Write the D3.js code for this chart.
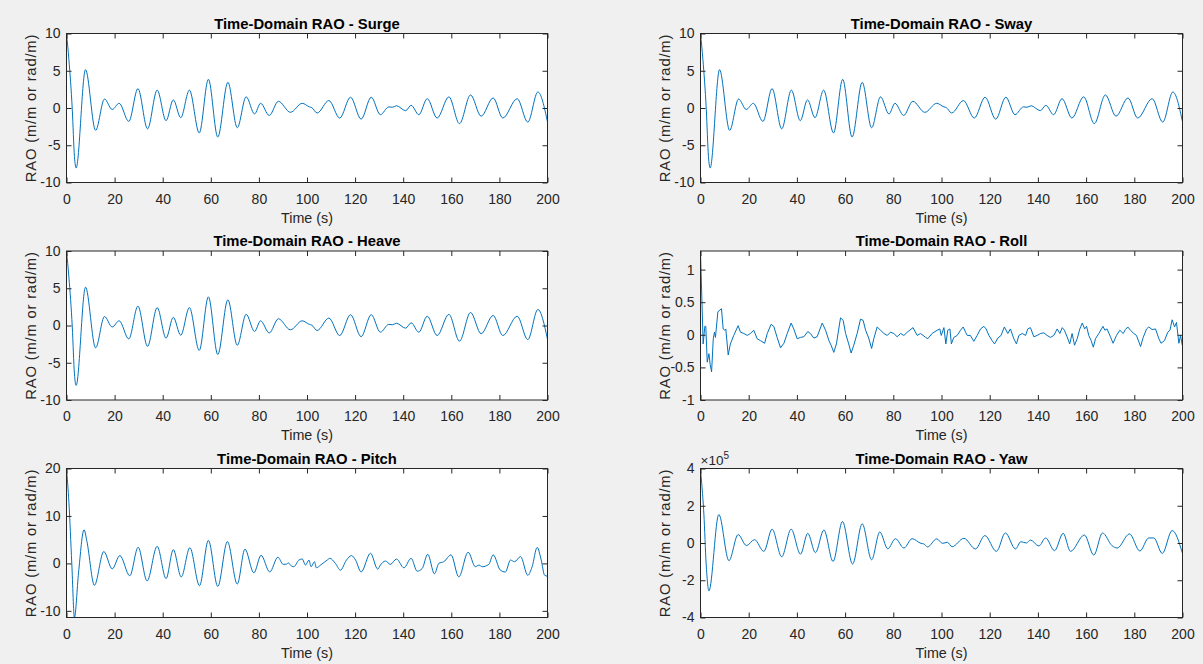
<!DOCTYPE html>
<html>
<head>
<meta charset="utf-8">
<script src="https://cdn.jsdelivr.net/npm/d3@7"></script>
<style>
  html, body { margin: 0; padding: 0; background: #f0f0f0; }
  svg { display: block; font-family: "Liberation Sans", Arial, Helvetica, sans-serif; }
</style>
</head>
<body>
<svg id="chart" width="1203" height="664"></svg>
<script>
// ---------------- DATA ----------------
const titles = ["Time-Domain RAO - Surge", "Time-Domain RAO - Sway", "Time-Domain RAO - Heave",
                "Time-Domain RAO - Roll", "Time-Domain RAO - Pitch", "Time-Domain RAO - Yaw"];
const xLabel = "Time (s)";
const yLabel = "RAO (m/m or rad/m)";
const xTicks = [0, 20, 40, 60, 80, 100, 120, 140, 160, 180, 200];

// Surge: [time, value]
const surgeData = [[0,10],[1,6.5],[2.4,-0.2],[3.3,-6.5],[4.0,-8.05],[7.9,5.15],[12.1,-3.0],[15.8,1.2],[19,-0.2],
  [21.9,0.63],[25.9,-1.8],[29.7,2.6],[33.7,-2.8],[37.7,2.4],[41.4,-1.7],[44.4,1.1],[47.5,-1.3],[51.1,2.4],
  [55.2,-3.35],[59.0,3.85],[62.9,-3.9],[67.1,3.45],[71.0,-2.65],[74.7,1.5],[78.2,-0.8],[80.7,0.63],[84.3,-1.0],
  [88.1,0.9],[93.1,-0.58],[98,0.63],[101,0.15],[102,0.05],[104.2,-0.67],[109.1,1.0],[113.6,-1.35],[118.1,1.45],
  [122.5,-1.5],[126.7,1.45],[130.5,-0.9],[134,0.15],[135.5,0.1],[137.2,0.3],[141,-0.36],[143.3,0.36],
  [146.5,-0.9],[150,1.25],[154.1,-1.35],[159,1.5],[163.4,-2.1],[168,1.75],[172.4,-1.1],[177.4,1.35],
  [181.4,-1.35],[187.4,1.25],[191.8,-1.9],[196,2.15],[200,-1.85]];
// Sway and Heave read the same as Surge in the picture
const swayData = surgeData.map(d => [d[0], d[1]]);
const heaveData = surgeData.map(d => [d[0], d[1]]);

const rollData = [[0,1.28],[1.1,-0.14],[1.8,0.13],[2.2,0.13],[2.8,-0.42],[3.5,-0.29],[4.0,-0.45],[4.6,-0.57],
  [5.3,-0.06],[5.8,0.04],[6.2,-0.04],[7.2,0.35],[8.0,0.38],[8.7,0.40],[9.4,0.09],[10.1,0.07],[10.5,0.09],
  [11.5,-0.31],[12.4,-0.14],[13.8,-0.01],[15.6,0.14],[16.6,0.04],[18.0,0.02],[19.4,-0.01],[20.7,0.02],
  [22.1,0.07],[23.5,-0.06],[24.9,-0.09],[26.6,-0.13],[27.7,0.02],[29.3,0.16],[30.4,0.13],[31.8,-0.04],
  [33.2,-0.2],[34.6,-0.13],[36.0,0.02],[37.6,0.18],[38.7,0.09],[40.1,-0.06],[41.5,-0.04],[42.9,-0.03],
  [44.5,0.05],[45.6,0.02],[47.0,-0.05],[48.4,-0.03],[50.5,0.18],[51.9,0.07],[53.3,-0.09],[54.2,-0.16],
  [55.3,-0.27],[56.4,-0.14],[58.1,0.26],[59.2,0.22],[60.2,0.02],[61.5,-0.14],[62.5,-0.28],[63.6,-0.16],
  [65.0,0.02],[66.4,0.24],[67.5,0.22],[68.5,0.07],[69.8,-0.05],[71.0,-0.21],[71.9,-0.06],[73.3,0.12],
  [74.7,0.07],[76.1,0.02],[77.5,-0.01],[78.8,0.04],[80.2,0.02],[81.6,-0.03],[83.0,0.02],[84.4,-0.01],
  [85.8,0.04],[88.2,0.11],[89.9,-0.01],[91.3,0.02],[93.4,-0.04],[94.3,-0.06],[96.1,0.02],[98.2,0.07],
  [99.3,0.09],[99.9,-0.01],[101.0,0.11],[101.8,-0.14],[102.6,0.07],[103.5,0.09],[104.1,-0.14],[105.1,-0.04],
  [106.5,-0.01],[107.9,0.07],[109.0,0.12],[110.0,0.04],[110.7,-0.01],[112.0,-0.01],[113.4,-0.1],[114.8,-0.01],
  [116.2,0.09],[117.6,0.13],[118.5,0.09],[119.7,-0.01],[121.0,-0.09],[122.0,-0.14],[123.4,-0.05],[124.7,-0.01],
  [126.1,0.12],[127.5,0.02],[128.6,0.09],[130.0,-0.06],[131.1,-0.14],[132.1,-0.01],[133.5,0.02],[134.9,-0.01],
  [135.8,0.09],[136.9,0.11],[138.3,-0.03],[139.7,-0.01],[141.1,0.02],[142.5,0.03],[143.8,-0.01],[145.2,-0.04],
  [146.6,-0.01],[148.0,0.09],[149.1,0.02],[150.1,0.11],[151.0,0.07],[152.1,-0.03],[153.2,-0.14],[154.2,0.02],
  [155.2,-0.16],[156.3,-0.06],[157.4,0.09],[158.4,0.18],[159.4,0.09],[160.2,0.13],[161.1,-0.01],[162.1,-0.09],
  [163.0,-0.19],[163.9,-0.06],[165.3,0.02],[167.0,0.13],[167.8,0.07],[168.7,0.09],[170.1,-0.03],[171.2,-0.13],
  [172.6,-0.01],[174.0,0.07],[175.4,0.02],[176.3,0.08],[177.3,0.12],[178.4,0.07],[179.8,0.02],[180.9,-0.01],
  [181.9,-0.11],[182.6,-0.18],[183.7,-0.04],[185.1,0.09],[186.0,0.12],[187.4,0.08],[188.8,0.09],[190.2,-0.06],
  [191.1,-0.13],[192.5,-0.09],[193.9,0.04],[194.8,0.07],[195.7,0.23],[196.7,0.12],[197.5,0.19],[198.5,-0.13],
  [199.2,-0.01],[199.9,-0.16]];

const pitchData = [[0,20],[1,12.9],[2.2,0],[3.3,-11.4],[5,-2],[7.3,7.1],[8.5,4.6],[11.6,-4.6],[15.5,2.5],
  [19,-1.15],[22.2,1.65],[26.3,-2.6],[29.8,3.4],[33.5,-3.7],[37.7,3.6],[41.4,-3.2],[44.4,2.9],[47.7,-2.85],
  [51.3,3.3],[55.3,-4.7],[59,4.85],[62.9,-4.85],[66.9,4.6],[71,-4.35],[74.2,3.0],[77.9,-2.0],[80.9,1.7],
  [84.5,-1.8],[87.9,1.3],[90.1,-0.2],[91.5,-0.15],[92.3,0.1],[93.1,-0.36],[94.5,-0.7],[96.6,0.7],[98,0.93],
  [99.4,-0.36],[100.8,0.7],[101.7,-0.7],[103.1,0.36],[103.9,-0.93],[105.6,-0.36],[108.4,0.7],[109.5,1.07],
  [111.8,0],[113.9,-1.43],[116.4,0.7],[118.5,1.64],[120.2,0.7],[122.5,-1.8],[126.4,2.14],[129.4,-1.2],
  [130.5,-0.36],[132.6,0.5],[134.7,-0.2],[137.2,0.93],[140.3,-0.93],[143.3,1.07],[145.8,-1.64],[147.9,-1.07],
  [150.2,1.93],[153,-2.2],[154.8,0],[156.9,0.36],[159.9,1.8],[163.1,-2.85],[167,2.35],[170,-0.7],[171.5,-0.36],
  [172.9,-0.7],[175.6,-0.2],[177.4,1.8],[180.4,-1.43],[182.5,-1.8],[184.6,0.7],[186.3,0.36],[188.8,1.43],
  [191.8,-2.5],[193.6,-0.7],[195.7,3.36],[197.4,0.7],[198.8,-2.5],[200,-2.7]];

const yawData = [[0,3.95e5],[0.5,3.2e5],[1.4,1.56e5],[2.35,-1.13e5],[3.5,-2.57e5],[7.6,1.53e5],[11.8,-0.95e5],
  [15.6,0.45e5],[19.1,-0.14e5],[22.4,0.18e5],[26.3,-0.45e5],[29.7,0.74e5],[33.7,-0.74e5],[37.6,0.74e5],
  [41.5,-0.6e5],[44.5,0.52e5],[47.7,-0.52e5],[51.2,0.7e5],[55,-0.99e5],[58.9,1.15e5],[63.1,-1.13e5],
  [67.1,1.03e5],[71,-0.9e5],[74.4,0.59e5],[77.7,-0.31e5],[80.9,0.23e5],[84.4,-0.27e5],[87.8,0.23e5],
  [91.5,-0.02e5],[92.7,-0.05e5],[94.2,-0.21e5],[98,0.22e5],[100.5,-0.02e5],[102.4,0.04e5],[104.4,-0.2e5],
  [109.3,0.25e5],[114.1,-0.32e5],[118,0.4e5],[122.8,-0.45e5],[126.5,0.54e5],[130.7,-0.32e5],[132.9,0.07e5],
  [135.2,0],[136.9,0.16e5],[140.4,-0.16e5],[143.2,0.27e5],[146.9,-0.41e5],[150.5,0.52e5],[153.5,-0.45e5],
  [159.3,0.43e5],[163.2,-0.65e5],[166.8,0.54e5],[170.8,-0.15e5],[172.9,-0.27e5],[178,0.49e5],[182.3,-0.43e5],
  [186,0.27e5],[188.1,0.27e5],[191.6,-0.56e5],[195.7,0.67e5],[200,-0.56e5]];

const yDomains = [[-10,10],[-10,10],[-10,10],[-1,1.285],[-11.4,20],[-4e5,4e5]];
const yTicks = [[-10,-5,0,5,10],[-10,-5,0,5,10],[-10,-5,0,5,10],[-1,-0.5,0,0.5,1],[-10,0,10,20],[-4e5,-2e5,0,2e5,4e5]];
const seriesData = [surgeData, swayData, heaveData, rollData, pitchData, yawData];
const smooth = [true, true, true, false, true, true];
const yScaleExp = [0, 0, 0, 0, 0, 5];

// ---------------- LAYOUT ----------------
const colX = [[66.5, 547.5], [700.5, 1182.5]];
const rowTop = [33.5, 251, 468.5];
const plotH = 149;
const lineColor = "#0072BD";
const axisColor = "#262626";
const tickLen = 5;

const svg = d3.select("#chart");
svg.append("rect").attr("width", 1203).attr("height", 664).attr("fill", "#f0f0f0");

const fmt = v => d3.format("~g")(v).replace("\u2212", "-");

titles.forEach((title, i) => {
  const col = i % 2, row = Math.floor(i / 2);
  const [x0, x1] = colX[col];
  const y0 = rowTop[row], y1 = y0 + plotH;
  const x = d3.scaleLinear().domain([0, 200]).range([x0, x1]);
  const y = d3.scaleLinear().domain(yDomains[i]).range([y1, y0]);
  const g = svg.append("g");

  g.append("rect").attr("x", x0).attr("y", y0).attr("width", x1 - x0).attr("height", plotH)
    .attr("fill", "#ffffff");

  const clipId = "clip" + i;
  g.append("clipPath").attr("id", clipId).append("rect")
    .attr("x", x0).attr("y", y0 - 1).attr("width", x1 - x0).attr("height", plotH + 2);

  const line = d3.line().x(d => x(d[0])).y(d => y(d[1]))
    .curve(smooth[i] ? d3.curveMonotoneX : d3.curveLinear);
  g.append("path").datum(seriesData[i]).attr("d", line)
    .attr("fill", "none").attr("stroke", lineColor).attr("stroke-width", 1)
    .attr("stroke-linejoin", "round").attr("clip-path", `url(#${clipId})`);

  const exp = yScaleExp[i];
  const yFmt = v => fmt(exp ? v / Math.pow(10, exp) : v);

  const ax = g.append("g").attr("transform", `translate(0,${y1})`)
    .call(d3.axisBottom(x).tickValues(xTicks).tickSize(-tickLen).tickSizeOuter(0).tickPadding(11.5).tickFormat(fmt));
  const axT = g.append("g").attr("transform", `translate(0,${y0})`)
    .call(d3.axisTop(x).tickValues(xTicks).tickSize(-tickLen).tickSizeOuter(0).tickFormat(""));
  const ay = g.append("g").attr("transform", `translate(${x0},0)`)
    .call(d3.axisLeft(y).tickValues(yTicks[i]).tickSize(-tickLen).tickSizeOuter(0).tickPadding(6).tickFormat(yFmt));
  const ayR = g.append("g").attr("transform", `translate(${x1},0)`)
    .call(d3.axisRight(y).tickValues(yTicks[i]).tickSize(-tickLen).tickSizeOuter(0).tickFormat(""));

  [ax, axT, ay, ayR].forEach(a => {
    a.select(".domain").remove();
    a.selectAll(".tick line").attr("stroke", axisColor).attr("stroke-width", 1);
    a.selectAll(".tick text").attr("fill", axisColor).attr("font-size", 14)
      .attr("font-family", '"Liberation Sans", Arial, sans-serif');
  });

  g.append("rect").attr("x", x0).attr("y", y0).attr("width", x1 - x0).attr("height", plotH)
    .attr("fill", "none").attr("stroke", axisColor).attr("stroke-width", 1);

  g.append("text").attr("x", (x0 + x1) / 2).attr("y", y0 - 5)
    .attr("text-anchor", "middle").attr("font-weight", "bold").attr("font-size", 14.8)
    .attr("fill", "#000").text(title);

  g.append("text").attr("x", (x0 + x1) / 2).attr("y", y1 + 40)
    .attr("text-anchor", "middle").attr("font-size", 14.3).attr("fill", axisColor).text(xLabel);

  g.append("text").attr("transform", `translate(${x0 - 31},${(y0 + y1) / 2}) rotate(-90)`)
    .attr("text-anchor", "middle").attr("font-size", 14.8).attr("letter-spacing", 0.8)
    .attr("fill", axisColor).text(yLabel);

  if (exp) {
    const t = g.append("text").attr("x", x0).attr("y", y0 - 4).attr("font-size", 13.5).attr("fill", axisColor);
    t.append("tspan").text("\u00d710");
    t.append("tspan").attr("dy", -6).attr("font-size", 10).text(String(exp));
  }
});
</script>
</body>
</html>
